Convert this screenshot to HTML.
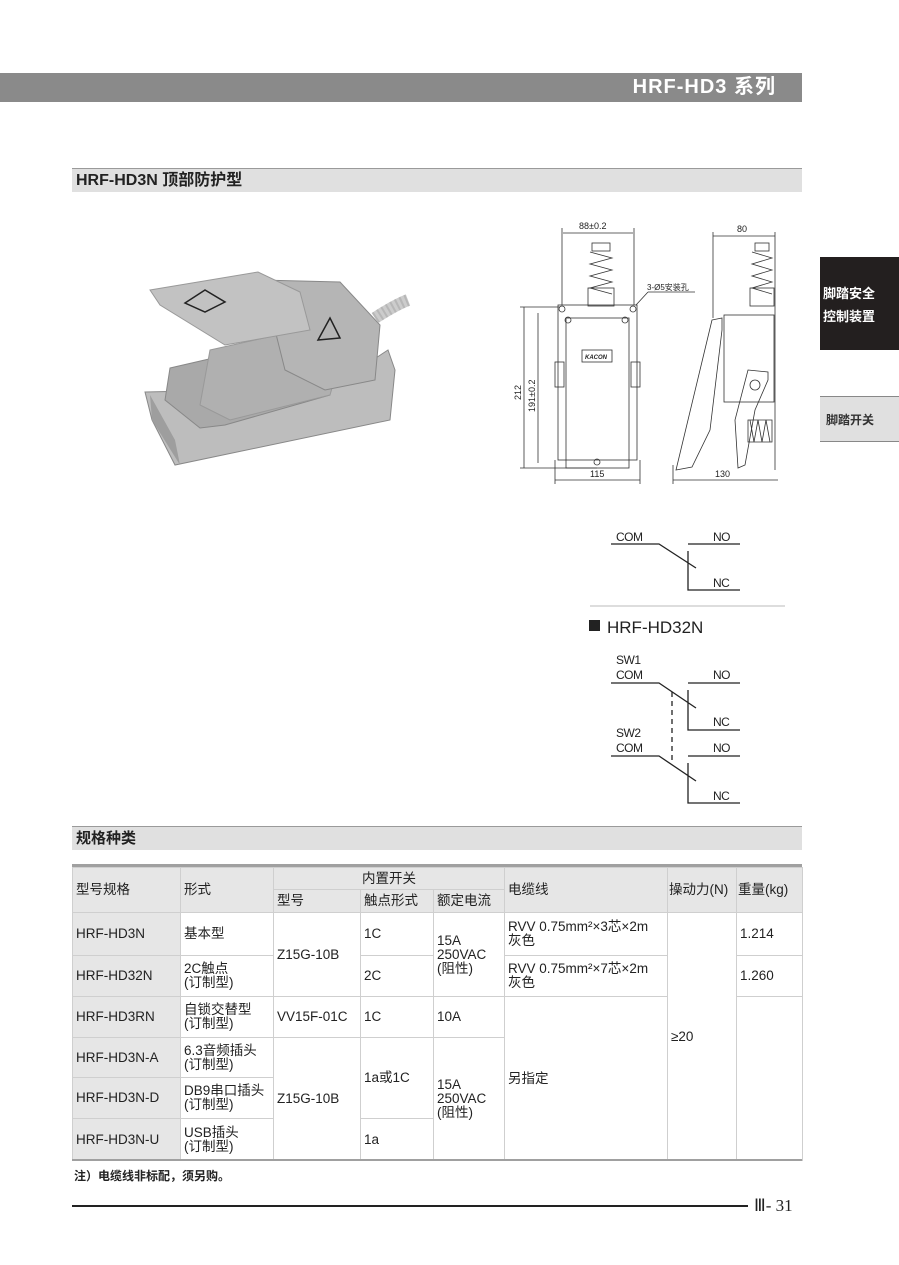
<!DOCTYPE html>
<html><head><meta charset="utf-8"><style>
*{margin:0;padding:0;box-sizing:border-box}
body{width:899px;height:1265px;background:#fff;position:relative;font-family:"Liberation Sans","Noto Sans CJK SC",sans-serif;color:#222;overflow:hidden}
.a{position:absolute}
table{border-collapse:collapse;table-layout:fixed;font-size:13.5px}
td{border:1px solid #cfcfcf;padding:0 3px;vertical-align:middle;line-height:14px}
td.g{background:#e6e6e6}
</style></head><body>
<div class="a" style="left:0;top:73px;width:802px;height:29px;background:#8a8a8a"></div>
<div class="a" style="left:560px;top:73px;width:216px;height:29px;line-height:29px;text-align:right;color:#fff;font-weight:bold;font-size:20px;letter-spacing:1px">HRF-HD3 系列</div>

<div class="a" style="left:72px;top:168px;width:730px;height:24px;background:#e0e0e0;border-top:1px solid #9a9a9a"></div>
<div class="a" style="left:76px;top:169px;height:23px;line-height:23px;font-weight:bold;font-size:16px">HRF-HD3N 顶部防护型</div>

<div class="a" style="left:820px;top:257px;width:79px;height:93px;background:#231f1f"></div>
<div class="a" style="left:823px;top:282px;color:#fff;font-weight:bold;font-size:13px;line-height:23px">脚踏安全<br>控制装置</div>
<div class="a" style="left:820px;top:396px;width:79px;height:46px;background:#e0e0e0;border-top:1px solid #888;border-bottom:1px solid #888"></div>
<div class="a" style="left:826px;top:411px;font-size:12px;font-weight:bold;color:#333">脚踏开关</div>

<!-- photo -->
<svg class="a" style="left:130px;top:260px" width="290" height="220" viewBox="130 260 290 220">
<polygon points="145,392 330,388 388,350 395,370 390,420 175,465 152,420" fill="#bdbdbd" stroke="#888"/>
<polygon points="150,395 175,440 180,465 152,420" fill="#9e9e9e"/>
<polygon points="170,368 270,345 330,360 330,395 225,425 200,428 165,400" fill="#a9a9a9" stroke="#888"/>
<polygon points="210,350 300,330 340,360 330,395 230,420 200,405" fill="#b0b0b0" stroke="#999"/>
<polygon points="260,280 340,282 380,325 375,380 325,390 285,370 270,310" fill="#b5b5b5" stroke="#888"/>
<polygon points="150,290 258,272 300,292 310,330 225,345 160,305" fill="#c2c2c2" stroke="#999"/>
<polygon points="185,303 205,290 225,302 205,312" fill="none" stroke="#222" stroke-width="1.5"/>
<polygon points="318,340 330,318 340,338" fill="none" stroke="#222" stroke-width="1.5"/>
<path d="M375,318 Q395,305 408,300" stroke="#ccc" stroke-width="12" fill="none"/>
<path d="M375,318 Q395,305 408,300" stroke="#999" stroke-width="12" stroke-dasharray="2 3" fill="none" opacity=".4"/>
</svg>

<!-- dimension drawing -->
<svg class="a" style="left:500px;top:210px" width="300" height="280" viewBox="500 210 300 280" font-family="Liberation Sans" font-size="9" fill="none" stroke="#333" stroke-width="0.8">
<line x1="563" y1="233" x2="633" y2="233"/><text x="579" y="229" fill="#222" stroke="none">88±0.2</text>
<line x1="562" y1="228" x2="562" y2="305"/><line x1="634" y1="228" x2="634" y2="305"/>
<rect x="592" y="243" width="18" height="8"/><path d="M590,252 l22,6 l-22,6 l22,6 l-22,6 l22,6 l-22,6 l22,6" />
<rect x="588" y="288" width="26" height="18"/>
<rect x="558" y="305" width="79" height="155"/>
<rect x="566" y="318" width="63" height="150"/>
<rect x="582" y="350" width="30" height="12"/><text x="585" y="359" fill="#222" stroke="none" font-size="6" font-style="italic" font-weight="bold">KACON</text>
<rect x="555" y="362" width="9" height="25"/><rect x="631" y="362" width="9" height="25"/>
<circle cx="562" cy="309" r="3"/><circle cx="633" cy="309" r="3"/><circle cx="568" cy="320" r="3"/><circle cx="625" cy="320" r="3"/>
<circle cx="597" cy="462" r="3"/>
<line x1="636" y1="305" x2="648" y2="292"/><line x1="648" y1="292" x2="695" y2="292"/>
<text x="647" y="290" fill="#222" stroke="none" font-size="8">3-Ø5安装孔</text>
<line x1="524" y1="307" x2="524" y2="468"/><line x1="538" y1="313" x2="538" y2="463"/>
<line x1="520" y1="307" x2="560" y2="307"/><line x1="520" y1="468" x2="597" y2="468"/>
<text transform="translate(521,400) rotate(-90)" fill="#222" stroke="none">212</text>
<text transform="translate(535,412) rotate(-90)" fill="#222" stroke="none">191±0.2</text>
<line x1="555" y1="480" x2="640" y2="480"/><text x="590" y="477" fill="#222" stroke="none">115</text>
<line x1="555" y1="460" x2="555" y2="484"/><line x1="640" y1="460" x2="640" y2="484"/>
<line x1="713" y1="236" x2="775" y2="236"/><text x="737" y="232" fill="#222" stroke="none">80</text>
<line x1="713" y1="232" x2="713" y2="318"/><line x1="775" y1="232" x2="775" y2="470"/>
<rect x="755" y="243" width="14" height="8"/><path d="M752,252 l20,6 l-20,6 l20,6 l-20,6 l20,6 l-20,6 l20,6"/>
<rect x="750" y="288" width="24" height="18"/>
<rect x="724" y="315" width="50" height="87"/>
<path d="M712,320 L722,318 L722,330 L710,430 L692,467 L676,470 L700,370 Z"/>
<path d="M748,370 L768,372 L768,380 L755,410 L745,465 L738,468 L735,420 Z"/>
<circle cx="755" cy="385" r="5"/>
<path d="M748,420 h24 v22 h-24 z M750,420 l4,22 l4,-22 l4,22 l4,-22 l4,22"/>
<line x1="673" y1="480" x2="778" y2="480"/><text x="715" y="477" fill="#222" stroke="none">130</text>
<line x1="673" y1="465" x2="673" y2="484"/>
</svg>

<!-- circuits -->
<svg class="a" style="left:580px;top:520px" width="220" height="290" viewBox="580 520 220 290" font-family="Liberation Sans" font-size="12" stroke="#222" stroke-width="1.3" fill="none">
<g fill="#222" stroke="none" letter-spacing="-0.5">
<text x="616" y="541">COM</text><text x="713" y="541">NO</text><text x="713" y="587">NC</text>
<text x="616" y="664">SW1</text><text x="616" y="679">COM</text><text x="713" y="679">NO</text><text x="713" y="726">NC</text>
<text x="616" y="737">SW2</text><text x="616" y="752">COM</text><text x="713" y="752">NO</text><text x="713" y="800">NC</text>
</g>
<path d="M611,544 H659 L696,568 M688,544 H740 M688,551 V590 H740"/>
<path d="M611,683 H659 L696,708 M688,683 H740 M688,690 V730 H740"/>
<path d="M611,756 H659 L696,781 M688,756 H740 M688,763 V803 H740"/>
<line x1="672" y1="692" x2="672" y2="762" stroke-dasharray="5 4"/>
<line x1="590" y1="606" x2="785" y2="606" stroke="#bbb" stroke-width="1"/>
<rect x="589" y="620" width="11" height="11" fill="#222" stroke="none"/>
<text x="607" y="633" fill="#222" stroke="none" font-size="17">HRF-HD32N</text>
</svg>

<div class="a" style="left:72px;top:826px;width:730px;height:24px;background:#e0e0e0;border-top:1px solid #9a9a9a"></div>
<div class="a" style="left:76px;top:827px;height:23px;line-height:23px;font-weight:bold;font-size:15px">规格种类</div>

<div class="a" style="left:72px;top:864px;width:730px;height:3px;background:#a0a0a0"></div>
<table class="a" style="left:72px;top:867px;width:730px">
<colgroup><col style="width:108px"><col style="width:93px"><col style="width:87px"><col style="width:73px"><col style="width:71px"><col style="width:163px"><col style="width:69px"><col style="width:66px"></colgroup>
<tr style="height:22px"><td class="g" rowspan="2">型号规格</td><td class="g" rowspan="2">形式</td><td class="g" colspan="3" style="text-align:center">内置开关</td><td class="g" rowspan="2">电缆线</td><td class="g" rowspan="2" style="padding:0 1px">操动力(N)</td><td class="g" rowspan="2" style="padding:0 1px">重量(kg)</td></tr>
<tr style="height:23px"><td class="g">型号</td><td class="g">触点形式</td><td class="g">额定电流</td></tr>
<tr style="height:43px"><td class="g">HRF-HD3N</td><td>基本型</td><td rowspan="2">Z15G-10B</td><td>1C</td><td rowspan="2">15A<br>250VAC<br>(阻性)</td><td>RVV 0.75mm²×3芯×2m<br>灰色</td><td rowspan="6">≥20</td><td>1.214</td></tr>
<tr style="height:41px"><td class="g">HRF-HD32N</td><td>2C触点<br>(订制型)</td><td>2C</td><td>RVV 0.75mm²×7芯×2m<br>灰色</td><td>1.260</td></tr>
<tr style="height:41px"><td class="g">HRF-HD3RN</td><td>自锁交替型<br>(订制型)</td><td>VV15F-01C</td><td>1C</td><td>10A</td><td rowspan="4">另指定</td><td rowspan="4"></td></tr>
<tr style="height:40px"><td class="g">HRF-HD3N-A</td><td>6.3音频插头<br>(订制型)</td><td rowspan="3">Z15G-10B</td><td rowspan="2">1a或1C</td><td rowspan="3">15A<br>250VAC<br>(阻性)</td></tr>
<tr style="height:41px"><td class="g">HRF-HD3N-D</td><td>DB9串口插头<br>(订制型)</td></tr>
<tr style="height:42px"><td class="g">HRF-HD3N-U</td><td>USB插头<br>(订制型)</td><td>1a</td></tr>
</table>
<div class="a" style="left:72px;top:1159px;width:730px;height:2px;background:#a0a0a0"></div>
<div class="a" style="left:74px;top:1167px;font-size:12px;font-weight:bold">注）电缆线非标配，须另购。</div>

<div class="a" style="left:72px;top:1205px;width:676px;height:2px;background:#222"></div>
<div class="a" style="left:754px;top:1196px;font-family:'Liberation Serif',serif;font-size:17px">Ⅲ- 31</div>
</body></html>
